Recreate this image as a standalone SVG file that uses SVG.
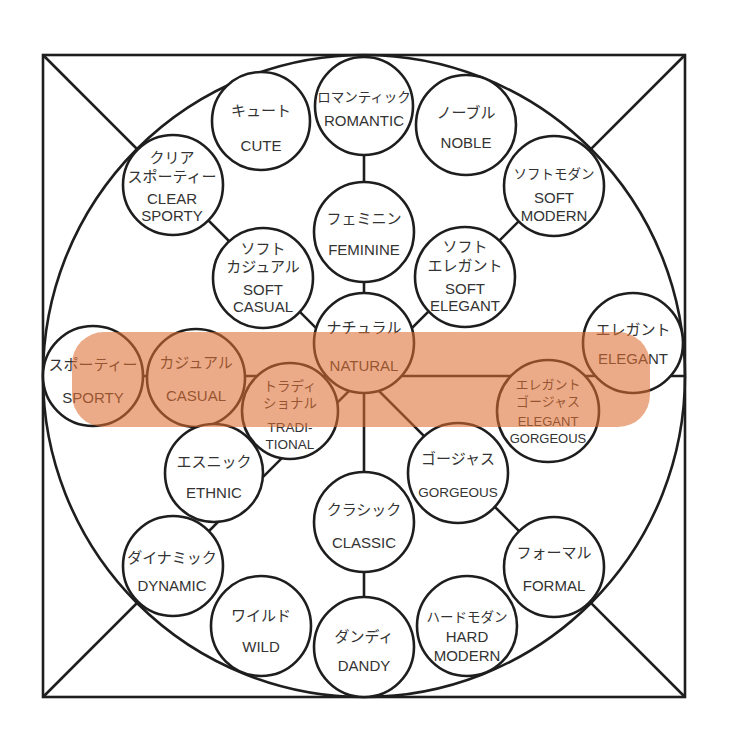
<svg xmlns="http://www.w3.org/2000/svg" width="740" height="749" viewBox="0 0 740 749">
<style>
.frame{fill:none;stroke:#1e1e1e;stroke-width:2.6}
.ln{stroke:#1e1e1e;stroke-width:2.6;fill:none}
.nd{fill:#fff;stroke:#1e1e1e;stroke-width:2.6}
text{font-family:"Liberation Sans","Noto Sans CJK JP",sans-serif;font-size:15px;fill:#333;text-anchor:middle}
.s{font-size:13.5px}
.xs{font-size:13px}
.band{fill:#DF6E32;fill-opacity:0.58}
</style>
<rect id="frame" class="frame" x="43" y="55" width="642" height="642"/>
<circle id="outer-circle" class="frame" cx="364" cy="376" r="321"/>
<g id="connectors">
<line class="ln" x1="43" y1="55" x2="685" y2="697"/>
<line class="ln" x1="685" y1="55" x2="43" y2="697"/>
<line class="ln" x1="43" y1="376" x2="685" y2="376"/>
<line class="ln" x1="364" y1="55" x2="364" y2="697"/>
</g>
<g id="romantic"><circle class="nd" cx="364" cy="106" r="49"/><text x="364" y="102" class="s">ロマンティック</text><text x="364" y="126">ROMANTIC</text></g>
<g id="cute"><circle class="nd" cx="261" cy="121" r="49"/><text x="261" y="116">キュート</text><text x="261" y="151">CUTE</text></g>
<g id="noble"><circle class="nd" cx="466" cy="125" r="50"/><text x="466" y="118">ノーブル</text><text x="466" y="148">NOBLE</text></g>
<g id="clear-sporty"><circle class="nd" cx="173" cy="185" r="50"/><text x="172" y="163">クリア</text><text x="172" y="182">スポーティー</text><text x="172" y="204">CLEAR</text><text x="172" y="221">SPORTY</text></g>
<g id="soft-modern"><circle class="nd" cx="554" cy="186" r="50"/><text x="554" y="179" class="s">ソフトモダン</text><text x="554" y="203">SOFT</text><text x="554" y="221">MODERN</text></g>
<g id="feminine"><circle class="nd" cx="364" cy="232" r="50"/><text x="364" y="224">フェミニン</text><text x="364" y="255">FEMININE</text></g>
<g id="soft-casual"><circle class="nd" cx="263" cy="278" r="50"/><text x="263" y="254">ソフト</text><text x="263" y="272">カジュアル</text><text x="263" y="295">SOFT</text><text x="263" y="312">CASUAL</text></g>
<g id="soft-elegant"><circle class="nd" cx="465" cy="277" r="50"/><text x="465" y="252">ソフト</text><text x="465" y="271">エレガント</text><text x="465" y="294">SOFT</text><text x="465" y="311">ELEGANT</text></g>
<g id="natural"><circle class="nd" cx="364" cy="343" r="50"/><text x="364" y="333">ナチュラル</text><text x="364" y="371">NATURAL</text></g>
<g id="elegant"><circle class="nd" cx="633" cy="343" r="50"/><text x="633" y="335">エレガント</text><text x="633" y="364">ELEGANT</text></g>
<g id="sporty"><circle class="nd" cx="93" cy="376" r="50"/><text x="93" y="370">スポーティー</text><text x="93" y="403">SPORTY</text></g>
<g id="casual"><circle class="nd" cx="196" cy="378" r="49"/><text x="196" y="368">カジュアル</text><text x="196" y="401">CASUAL</text></g>
<g id="traditional"><circle class="nd" cx="290" cy="411" r="48"/><text x="290" y="391" class="s">トラディ</text><text x="290" y="408" class="s">ショナル</text><text x="290" y="432" class="s">TRADI-</text><text x="290" y="449" class="s">TIONAL</text></g>
<g id="elegant-gorgeous"><circle class="nd" cx="548" cy="411" r="51"/><text x="548" y="389" class="xs">エレガント</text><text x="548" y="406" class="xs">ゴージャス</text><text x="548" y="426" class="xs">ELEGANT</text><text x="548" y="443" class="xs">GORGEOUS</text></g>
<g id="ethnic"><circle class="nd" cx="214" cy="473" r="49"/><text x="214" y="467">エスニック</text><text x="214" y="498">ETHNIC</text></g>
<g id="gorgeous"><circle class="nd" cx="458" cy="473" r="50"/><text x="458" y="464">ゴージャス</text><text x="458" y="497" class="s">GORGEOUS</text></g>
<g id="classic"><circle class="nd" cx="364" cy="522" r="50"/><text x="364" y="515">クラシック</text><text x="364" y="548">CLASSIC</text></g>
<g id="dynamic"><circle class="nd" cx="173" cy="566" r="50"/><text x="172" y="563">ダイナミック</text><text x="172" y="591">DYNAMIC</text></g>
<g id="formal"><circle class="nd" cx="554" cy="567" r="50"/><text x="554" y="558">フォーマル</text><text x="554" y="591">FORMAL</text></g>
<g id="wild"><circle class="nd" cx="261" cy="626" r="50"/><text x="261" y="621">ワイルド</text><text x="261" y="652">WILD</text></g>
<g id="dandy"><circle class="nd" cx="364" cy="647" r="50"/><text x="364" y="642">ダンディ</text><text x="364" y="671">DANDY</text></g>
<g id="hard-modern"><circle class="nd" cx="467" cy="626" r="50"/><text x="467" y="622" class="s">ハードモダン</text><text x="467" y="642">HARD</text><text x="467" y="661">MODERN</text></g>
<rect id="highlight-band" class="band" x="72" y="332" width="578" height="95" rx="32" ry="32"/>
</svg>
